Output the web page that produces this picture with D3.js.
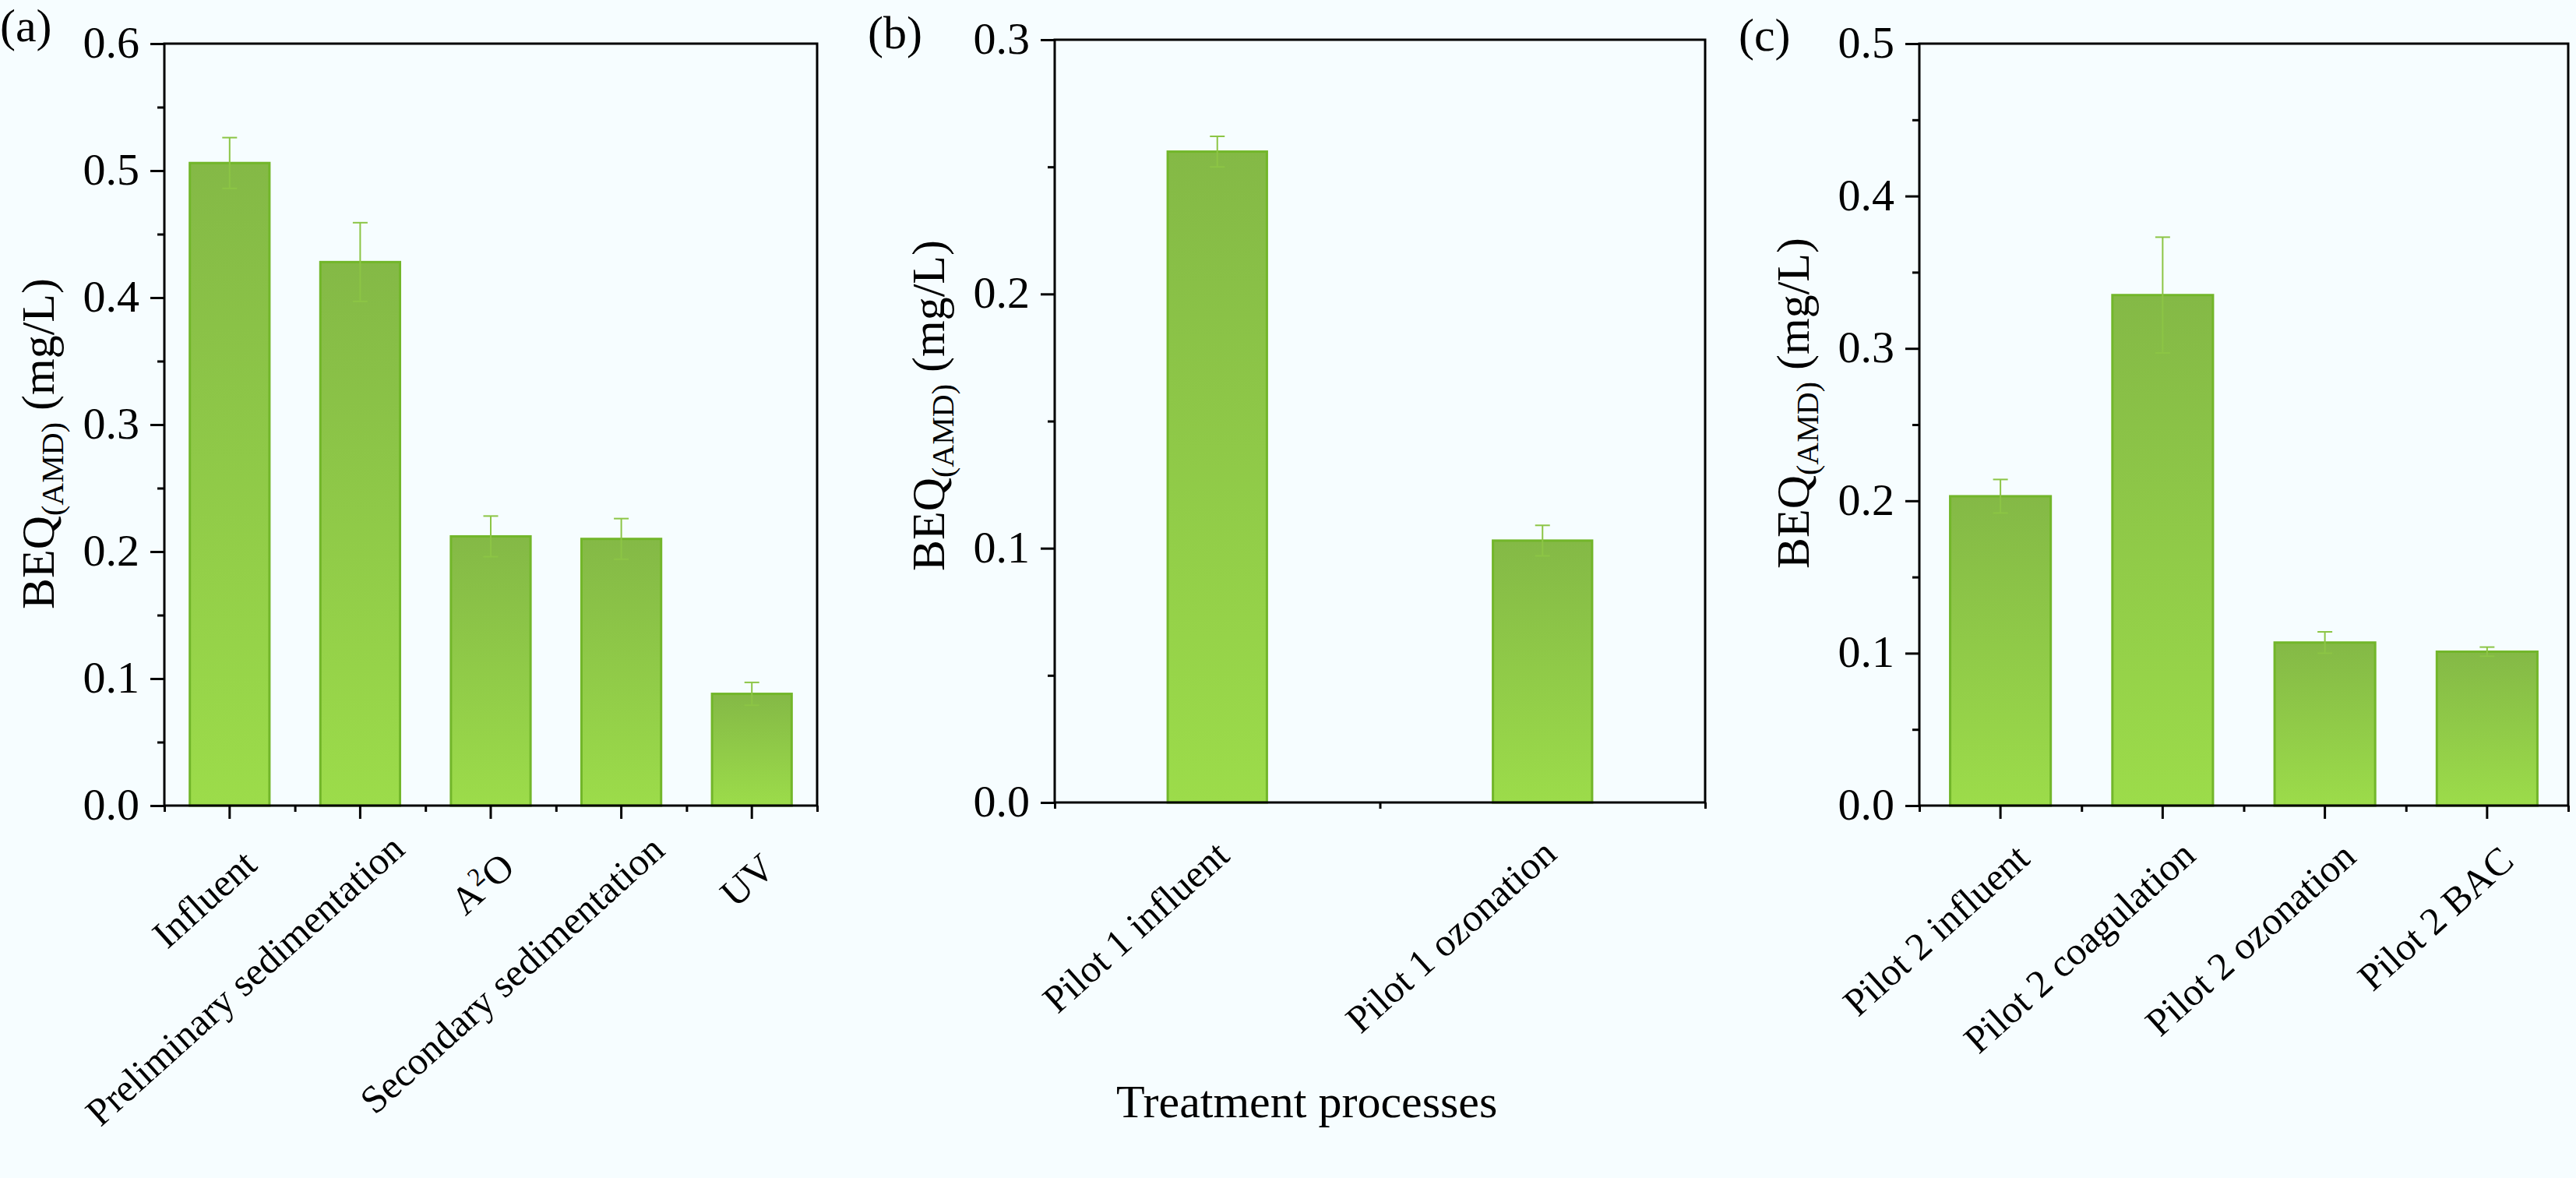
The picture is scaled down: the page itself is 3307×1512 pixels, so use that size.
<!DOCTYPE html>
<html>
<head>
<meta charset="utf-8">
<script src="https://cdn.jsdelivr.net/npm/d3@7/dist/d3.min.js"></script>
<style>
  html, body { margin: 0; padding: 0; background: #F6FDFF; }
  svg { display: block; }
  text { font-family: "Liberation Serif", "Times New Roman", serif; fill: #000; }
</style>
</head>
<body>
<svg id="chart" width="3307" height="1512"></svg>
<script>
// ---------------- DATA ----------------
const panelLetters = ["(a)", "(b)", "(c)"];

const categoriesA = ["Influent", "Preliminary sedimentation", "A2O", "Secondary sedimentation", "UV"];
const valuesA     = [0.506, 0.428, 0.212, 0.210, 0.088];
const errorsA     = [0.020, 0.031, 0.016, 0.016, 0.009];
const yTicksA     = [0.0, 0.1, 0.2, 0.3, 0.4, 0.5, 0.6];

const categoriesB = ["Pilot 1 influent", "Pilot 1 ozonation"];
const valuesB     = [0.256, 0.103];
const errorsB     = [0.006, 0.006];
const yTicksB     = [0.0, 0.1, 0.2, 0.3];

const categoriesC = ["Pilot 2 influent", "Pilot 2 coagulation", "Pilot 2 ozonation", "Pilot 2 BAC"];
const valuesC     = [0.203, 0.335, 0.107, 0.101];
const errorsC     = [0.011, 0.038, 0.007, 0.003];
const yTicksC     = [0.0, 0.1, 0.2, 0.3, 0.4, 0.5];

const yAxisTitle  = { main: "BEQ", sub: "(AMD)", unit: " (mg/L)" };
const xAxisTitle  = "Treatment processes";

// ---------------- LAYOUT ----------------
const layout = [
  { left: 211,  right: 1049, top: 56, bottom: 1034, pad: 0.39, majorX: true,
    letterX: 0,    letterY: 53, titleY: 782, labelBase: 28 },
  { left: 1354, right: 2189, top: 51, bottom: 1030, pad: 0.695, majorX: false,
    letterX: 1114, letterY: 62, titleY: 733, labelBase: 0 },
  { left: 2464, right: 3297, top: 56, bottom: 1034, pad: 0.38, majorX: true,
    letterX: 2232, letterY: 65, titleY: 730, labelBase: 22 }
];
const LABEL_ANGLE = 42;
const LABEL_SIZE = 50;

const panels = [
  { cats: categoriesA, vals: valuesA, errs: errorsA, ticks: yTicksA },
  { cats: categoriesB, vals: valuesB, errs: errorsB, ticks: yTicksB },
  { cats: categoriesC, vals: valuesC, errs: errorsC, ticks: yTicksC }
].map((p, i) => Object.assign({}, p, layout[i], { letter: panelLetters[i] }));

const BORDER = "#72B62A";
const ERR = "#8CC545";

const svg = d3.select("#chart");
svg.append("rect").attr("width", 3307).attr("height", 1512).attr("fill", "#F6FDFF");

const defs = svg.append("defs");
const grad = defs.append("linearGradient").attr("id", "barGrad")
  .attr("x1", 0).attr("y1", 0).attr("x2", 0).attr("y2", 1);
grad.append("stop").attr("offset", "0%").attr("stop-color", "#84B946");
grad.append("stop").attr("offset", "100%").attr("stop-color", "#9CDC4A");

panels.forEach(p => {
  const g = svg.append("g");
  const yMax = d3.max(p.ticks);
  const y = d3.scaleLinear().domain([0, yMax]).range([p.bottom, p.top]);
  const x = d3.scaleBand().domain(p.cats).range([p.left, p.right])
    .paddingInner(p.pad).paddingOuter(p.pad / 2);
  const bw = x.bandwidth();
  const cx = c => x(c) + bw / 2;
  const xLin = d3.scaleLinear().domain([0.5, p.cats.length + 0.5]).range([p.left, p.right]);

  // bars
  const data = p.cats.map((c, i) => ({ c, v: p.vals[i], e: p.errs[i] }));
  g.selectAll("rect.bar").data(data).join("rect")
    .attr("class", "bar")
    .attr("x", d => x(d.c))
    .attr("y", d => y(d.v))
    .attr("width", bw)
    .attr("height", d => y(0) - y(d.v))
    .attr("fill", "url(#barGrad)")
    .attr("stroke", BORDER)
    .attr("stroke-width", 3);

  // error bars
  const capW = 19;
  const eb = g.selectAll("g.err").data(data).join("g").attr("class", "err")
    .attr("stroke", ERR).attr("stroke-width", 2);
  eb.append("line").attr("x1", d => cx(d.c)).attr("x2", d => cx(d.c))
    .attr("y1", d => y(d.v - d.e)).attr("y2", d => y(d.v + d.e));
  eb.append("line").attr("x1", d => cx(d.c) - capW / 2).attr("x2", d => cx(d.c) + capW / 2)
    .attr("y1", d => y(d.v + d.e)).attr("y2", d => y(d.v + d.e));
  eb.append("line").attr("x1", d => cx(d.c) - capW / 2).attr("x2", d => cx(d.c) + capW / 2)
    .attr("y1", d => y(d.v - d.e)).attr("y2", d => y(d.v - d.e));

  // y axis major ticks + labels
  const yAx = g.append("g").attr("transform", `translate(${p.left},0)`)
    .call(d3.axisLeft(y).tickValues(p.ticks).tickSize(18).tickSizeOuter(0)
      .tickPadding(14).tickFormat(d3.format(".1f")));
  // y minor ticks
  const minorY = d3.range(0.05, yMax, 0.1).map(v => +v.toFixed(2));
  const yMin = g.append("g").attr("transform", `translate(${p.left},0)`)
    .call(d3.axisLeft(y).tickValues(minorY).tickSize(9).tickSizeOuter(0).tickFormat(""));

  // x axis major ticks
  const xAxG = g.append("g").attr("transform", `translate(0,${p.bottom})`);
  if (p.majorX) {
    xAxG.call(d3.axisBottom(x).tickSize(17).tickSizeOuter(0).tickFormat(""));
  }
  const minorX = d3.range(0, p.cats.length + 1).map(k => k + 0.5);
  const xMin = g.append("g").attr("transform", `translate(0,${p.bottom})`)
    .call(d3.axisBottom(xLin).tickValues(minorX).tickSize(8).tickSizeOuter(0).tickFormat(""));

  [yAx, yMin, xAxG, xMin].forEach(a => {
    a.selectAll(".domain").remove();
    a.selectAll(".tick line").attr("stroke", "#000").attr("stroke-width", 3);
  });
  yAx.selectAll(".tick text")
    .attr("font-size", 58)
    .attr("font-family", "Liberation Serif, Times New Roman, serif")
    .attr("fill", "#000")
    .attr("dy", "0.30em");

  // frame
  g.append("rect").attr("x", p.left).attr("y", p.top)
    .attr("width", p.right - p.left).attr("height", p.bottom - p.top)
    .attr("fill", "none").attr("stroke", "#000").attr("stroke-width", 3);

  // rotated category labels
  data.forEach(d => {
    const t = g.append("text").attr("font-size", LABEL_SIZE).attr("text-anchor", "end");
    if (d.c === "A2O") {
      t.append("tspan").text("A");
      t.append("tspan").text("2").attr("font-size", 33).attr("dy", -18);
      t.append("tspan").text("O").attr("dy", 18);
    } else {
      t.text(d.c);
    }
    const L = t.node().getComputedTextLength();
    const ax = cx(d.c) + p.labelBase + 0.06 * L;
    const ay = p.bottom + 88 - 0.054 * L;
    t.attr("x", ax).attr("y", ay).attr("transform", `rotate(${-LABEL_ANGLE},${ax},${ay})`);
  });

  // y-axis title
  const tx = p.left - 142, ty = p.titleY;
  const yt = g.append("text").attr("font-size", 60).attr("text-anchor", "start")
    .attr("x", tx).attr("y", ty).attr("transform", `rotate(-90,${tx},${ty})`);
  yt.append("tspan").text(yAxisTitle.main);
  yt.append("tspan").text(yAxisTitle.sub).attr("font-size", 40).attr("dy", 12);
  yt.append("tspan").text(yAxisTitle.unit).attr("dy", -12);

  // panel letter
  g.append("text").attr("x", p.letterX).attr("y", p.letterY)
    .attr("font-size", 60).text(p.letter);
});

// common x title
svg.append("text").attr("x", 1433).attr("y", 1434).attr("font-size", 60)
  .text(xAxisTitle);
</script>
</body>
</html>
